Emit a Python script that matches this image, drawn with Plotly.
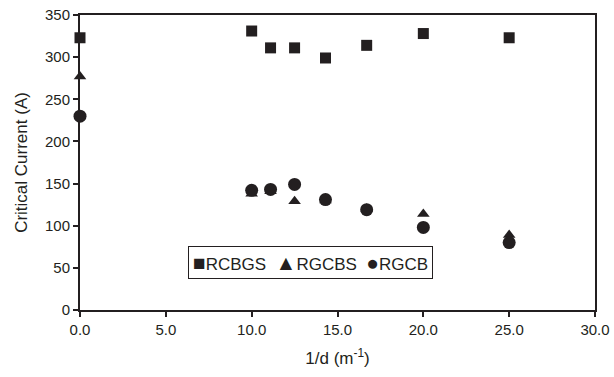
import plotly.graph_objects as go

x_vals = [0.0, 10.0, 11.1, 12.5, 14.3, 16.7, 20.0, 25.0]
rcbgs = [323, 331, 311, 311, 299, 314, 328, 323]
rgcbs = [277, 138, 141, 129, 130, 120, 114, 89]
rgcb = [230, 142, 143, 149, 131, 119, 98, 80]
series_names = ["RCBGS", "RGCBS", "RGCB"]
x_ticks = [0, 5, 10, 15, 20, 25, 30]
x_tick_text = ["0.0", "5.0", "10.0", "15.0", "20.0", "25.0", "30.0"]
y_ticks = [0, 50, 100, 150, 200, 250, 300, 350]

ink = "#231f20"
font = "Liberation Sans, Arial, sans-serif"
nb = "\u00a0"

fig = go.Figure()
fig.add_trace(go.Scatter(x=x_vals, y=rcbgs, mode="markers", name=series_names[0],
                         marker=dict(symbol="square", size=11, color=ink), cliponaxis=False))
fig.add_trace(go.Scatter(x=x_vals, y=rgcbs, mode="markers", name=series_names[1],
                         marker=dict(symbol="triangle-up", size=11, color=ink), cliponaxis=False))
fig.add_trace(go.Scatter(x=x_vals, y=rgcb, mode="markers", name=series_names[2],
                         marker=dict(symbol="circle", size=13, color=ink), cliponaxis=False))


def sym(ch):
    return '<span style="font-size:21px">' + ch + "</span>"


legend_text = (sym("\u25a0") + series_names[0] + nb * 2 + sym("\u25b2") + series_names[1]
               + nb * 2 + sym("\u25cf") + series_names[2])

fig.update_layout(
    width=614, height=377,
    margin=dict(l=80, r=19, t=15, b=67),
    paper_bgcolor="white", plot_bgcolor="white",
    font=dict(family=font, size=15, color=ink),
    showlegend=False,
    annotations=[dict(text=legend_text, xref="paper", yref="paper", x=0.4476, y=0.16,
                      xanchor="center", yanchor="middle", showarrow=False,
                      bordercolor=ink, borderwidth=1, borderpad=4, bgcolor="white",
                      font=dict(family=font, size=17, color=ink))],
)
fig.update_xaxes(range=[0, 30], tickvals=x_ticks, ticktext=x_tick_text, automargin=False,
                 showgrid=False, zeroline=False, showline=True, linewidth=2, linecolor=ink,
                 mirror=True, ticks="outside", ticklen=5, tickwidth=1.5, tickcolor=ink,
                 ticklabeloverflow="allow", tickfont=dict(size=15),
                 title=dict(text="1/d (m<sup>-1</sup>)", standoff=15, font=dict(size=17)))
fig.update_yaxes(range=[0, 350], tickvals=y_ticks, automargin=False,
                 showgrid=False, zeroline=False, showline=True, linewidth=2, linecolor=ink,
                 mirror=True, ticks="outside", ticklen=5, tickwidth=1.5, tickcolor=ink,
                 ticklabeloverflow="allow", tickfont=dict(size=15),
                 title=dict(text="Critical Current (A)", standoff=13, font=dict(size=17)))

# remove the default 8px page margin so the 614x377 figure fills the window exactly
fig.write_html("out.html", post_script="document.body.style.margin='0';",
               config={"displayModeBar": False})
